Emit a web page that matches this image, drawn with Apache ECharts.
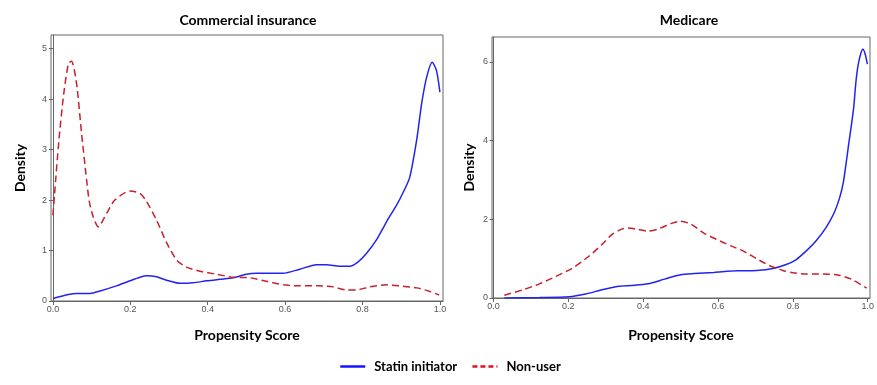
<!DOCTYPE html>
<html>
<head>
<meta charset="utf-8">
<script src="https://cdn.jsdelivr.net/npm/echarts@6/dist/echarts.min.js"></script>
<style>
html,body{margin:0;padding:0;background:#fff;}
#chart{width:877px;height:385px;}
</style>
</head>
<body>
<div id="chart"></div>
<script>
// Commercial insurance panel
var commStatinX = [0, 0.04, 0.061, 0.096, 0.122, 0.164, 0.199, 0.225, 0.242, 0.268, 0.294, 0.328, 0.362, 0.397, 0.431, 0.466, 0.5, 0.526, 0.569, 0.595, 0.638, 0.681, 0.707, 0.741, 0.767, 0.788, 0.81, 0.836, 0.862, 0.888, 0.905, 0.922, 0.94, 0.953, 0.966, 0.98, 0.991, 1.0];
var commStatinY = [0.05, 0.13, 0.15, 0.15, 0.20, 0.30, 0.40, 0.47, 0.50, 0.48, 0.41, 0.35, 0.36, 0.40, 0.43, 0.46, 0.53, 0.55, 0.55, 0.55, 0.63, 0.72, 0.72, 0.69, 0.69, 0.77, 0.94, 1.21, 1.57, 1.90, 2.15, 2.45, 3.19, 3.92, 4.44, 4.73, 4.57, 4.14];
var commNonX = [0, 0.004, 0.0155, 0.028, 0.04, 0.048, 0.061, 0.074, 0.087, 0.094, 0.104, 0.117, 0.139, 0.16, 0.199, 0.225, 0.242, 0.268, 0.294, 0.32, 0.345, 0.38, 0.422, 0.466, 0.509, 0.552, 0.595, 0.638, 0.689, 0.724, 0.758, 0.784, 0.819, 0.862, 0.896, 0.94, 0.974, 0.998];
var commNonY = [1.70, 2.10, 3.19, 4.11, 4.70, 4.75, 4.31, 3.32, 2.40, 1.97, 1.67, 1.47, 1.74, 2.00, 2.18, 2.13, 1.97, 1.60, 1.15, 0.81, 0.67, 0.59, 0.53, 0.47, 0.46, 0.39, 0.32, 0.30, 0.30, 0.28, 0.22, 0.22, 0.28, 0.32, 0.30, 0.26, 0.19, 0.12];
// Medicare panel
var medStatinX = [0.029, 0.123, 0.202, 0.246, 0.29, 0.334, 0.37, 0.413, 0.457, 0.5, 0.536, 0.589, 0.65, 0.703, 0.747, 0.782, 0.808, 0.835, 0.861, 0.888, 0.91, 0.925, 0.935, 0.949, 0.962, 0.968, 0.974, 0.981, 0.987, 0.993, 0.999];
var medStatinY = [0.0, 0.01, 0.03, 0.10, 0.21, 0.30, 0.32, 0.36, 0.48, 0.59, 0.62, 0.65, 0.69, 0.70, 0.75, 0.85, 0.97, 1.19, 1.44, 1.78, 2.16, 2.55, 2.95, 3.90, 4.80, 5.45, 5.90, 6.20, 6.32, 6.20, 5.94];
var medNonX = [0.029, 0.079, 0.123, 0.167, 0.211, 0.255, 0.29, 0.316, 0.343, 0.36, 0.387, 0.413, 0.439, 0.474, 0.5, 0.527, 0.562, 0.598, 0.633, 0.668, 0.703, 0.738, 0.773, 0.80, 0.835, 0.879, 0.923, 0.958, 0.997];
var medNonY = [0.07, 0.21, 0.36, 0.55, 0.76, 1.06, 1.36, 1.61, 1.75, 1.78, 1.74, 1.70, 1.75, 1.89, 1.95, 1.88, 1.65, 1.48, 1.33, 1.19, 1.00, 0.82, 0.70, 0.64, 0.61, 0.61, 0.58, 0.47, 0.25];

var panelTitles = ['Commercial insurance', 'Medicare'];
var seriesNames = ['Statin initiator', 'Non-user'];
var xTicks = [0, 0.2, 0.4, 0.6, 0.8, 1.0];
var yTicksComm = [0, 1, 2, 3, 4, 5];
var yTicksMed = [0, 2, 4, 6];

function pairs(xs, ys) { return xs.map(function (x, i) { return [x, ys[i]]; }); }

var BLUE = '#2323f0';
var RED = '#c8202e';
var FONT = 'Lato, "Open Sans", sans-serif';

function xAxisDef(idx, min, max, gap) {
  return {
    type: 'value', gridIndex: idx, min: min, max: max,
    name: 'Propensity Score', nameLocation: 'middle', nameGap: gap,
    nameTextStyle: { fontFamily: FONT, fontWeight: 'bold', fontSize: 14, color: '#000' },
    axisLine: { show: true, lineStyle: { color: '#666', width: 1 } },
    axisTick: { show: true, length: 4, customValues: xTicks, lineStyle: { color: '#666' } },
    axisLabel: { customValues: xTicks, color: '#555', fontSize: 9, fontFamily: 'Arial, "Liberation Sans", sans-serif', margin: 4,
      formatter: function (v) { return v.toFixed(1); } },
    splitLine: { show: false }
  };
}
function yAxisDef(idx, max, ticks, gap) {
  return {
    type: 'value', gridIndex: idx, min: 0, max: max,
    name: 'Density', nameLocation: 'middle', nameGap: gap, nameRotate: 90,
    nameTextStyle: { fontFamily: FONT, fontWeight: 'bold', fontSize: 14, color: '#000' },
    axisLine: { show: true, lineStyle: { color: '#666', width: 1 } },
    axisTick: { show: true, length: 4, customValues: ticks, lineStyle: { color: '#666' } },
    axisLabel: { customValues: ticks, color: '#555', fontSize: 9, fontFamily: 'Arial, "Liberation Sans", sans-serif', margin: 4 },
    splitLine: { show: false }
  };
}
function lineSeries(name, xi, data, color, dashed) {
  return {
    name: name, type: 'line', xAxisIndex: xi, yAxisIndex: xi,
    data: data, smooth: 0.25, showSymbol: false, symbol: 'none',
    lineStyle: { color: color, width: 1.5, type: dashed ? [7, 4] : 'solid' },
    itemStyle: { color: color }, z: dashed ? 3 : 2
  };
}

var chart = echarts.init(document.getElementById('chart'), null, { renderer: 'canvas' });
chart.setOption({
  backgroundColor: '#fff',
  animation: false,
  title: [
    { text: panelTitles[0], left: 243, top: 8, textAlign: 'center',
      textStyle: { fontFamily: FONT, fontWeight: 'bold', fontSize: 14, color: '#000' } },
    { text: panelTitles[1], left: 684, top: 8, textAlign: 'center',
      textStyle: { fontFamily: FONT, fontWeight: 'bold', fontSize: 14, color: '#000' } }
  ],
  legend: {
    bottom: 7, left: 334, itemWidth: 25, itemHeight: 10, itemGap: 14,
    textStyle: { fontFamily: FONT, fontWeight: 'bold', fontSize: 13, color: '#000', padding: [0, 0, 0, 4] },
    data: [
      { name: seriesNames[0], itemStyle: { opacity: 0 }, lineStyle: { color: '#1515ff', width: 2.5, type: 'solid' } },
      { name: seriesNames[1], itemStyle: { opacity: 0 }, lineStyle: { color: '#e01020', width: 2.5, type: [5, 3] } }
    ]
  },
  grid: [
    { left: 51, top: 35, width: 392, height: 266, show: true, borderColor: '#666', borderWidth: 1, backgroundColor: 'transparent' },
    { left: 492, top: 37, width: 383, height: 261, show: true, borderColor: '#666', borderWidth: 1, backgroundColor: 'transparent' }
  ],
  xAxis: [ xAxisDef(0, -0.005, 1.008, 27), xAxisDef(1, -0.004, 1.006, 30) ],
  yAxis: [ yAxisDef(0, 5.27, yTicksComm, 24), yAxisDef(1, 6.63, yTicksMed, 16) ],
  series: [
    lineSeries(seriesNames[0], 0, pairs(commStatinX, commStatinY), BLUE, false),
    lineSeries(seriesNames[1], 0, pairs(commNonX, commNonY), RED, true),
    lineSeries(seriesNames[0], 1, pairs(medStatinX, medStatinY), BLUE, false),
    lineSeries(seriesNames[1], 1, pairs(medNonX, medNonY), RED, true)
  ]
});
</script>
</body>
</html>
